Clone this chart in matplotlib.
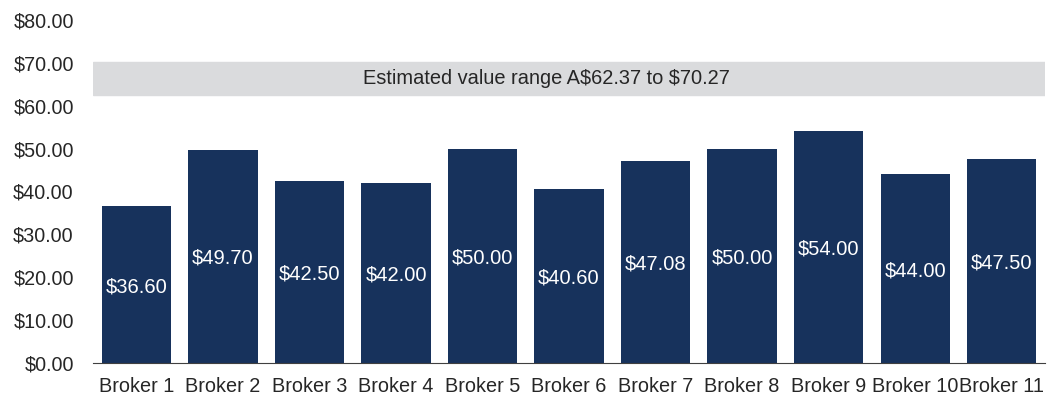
import matplotlib.pyplot as plt

plt.rcParams['font.family'] = ['Liberation Sans', 'DejaVu Sans']

# Broker price targets
brokers = ["Broker 1", "Broker 2", "Broker 3", "Broker 4", "Broker 5", "Broker 6",
           "Broker 7", "Broker 8", "Broker 9", "Broker 10", "Broker 11"]
targets = [36.60, 49.70, 42.50, 42.00, 50.00, 40.60, 47.08, 50.00, 54.00, 44.00, 47.50]

# Estimated value range
range_low = 62.37
range_high = 70.27

fig = plt.figure(figsize=(10.47, 3.96), dpi=100)
ax = fig.add_axes([0.089, 0.083, 0.909, 0.867])

x = list(range(len(brokers)))
ax.bar(x, targets, width=0.8, color="#17325C", zorder=2)

ax.axhspan(range_low, range_high, color="#DADBDD", zorder=1)
ax.text(0.476, (range_low + range_high) / 2,
        f"Estimated value range A\\${range_low:.2f} to \\${range_high:.2f}",
        transform=ax.get_yaxis_transform(), ha="center", va="center",
        fontsize=14.4, color="#262626")

for xi, v in zip(x, targets):
    ax.text(xi, v / 2, f"\\${v:.2f}", ha="center", va="center_baseline",
            fontsize=14.5, color="white", zorder=3)

ax.set_xlim(-0.5, len(brokers) - 0.5)
ax.set_ylim(0, 80)
ax.set_yticks(range(0, 81, 10))
ax.set_yticklabels([f"\\${t:.2f}" for t in range(0, 81, 10)])
ax.set_xticks(x)
ax.set_xticklabels(brokers)
ax.tick_params(length=0, colors="#262626")
ax.tick_params(axis="x", labelsize=14.3, pad=10)
ax.tick_params(axis="y", labelsize=14.2, pad=14)

for side in ["top", "right", "left"]:
    ax.spines[side].set_visible(False)
ax.spines["bottom"].set_color("#404040")

fig.savefig("out.png", dpi=100)
